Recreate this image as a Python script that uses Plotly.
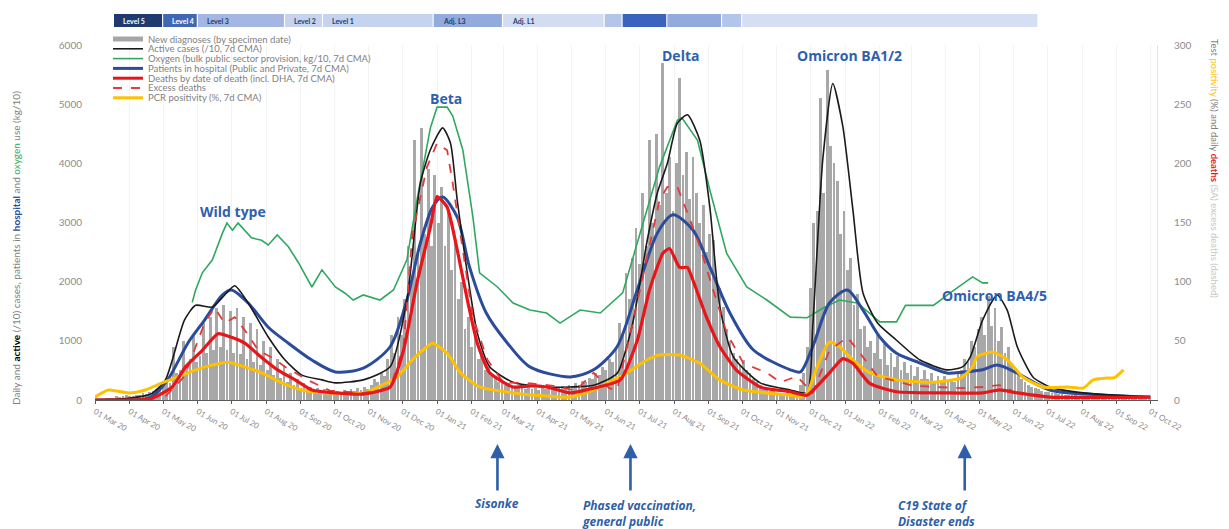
import pandas as pd
import plotly.graph_objects as go

START = pd.Timestamp("2020-03-01")
END = pd.Timestamp("2022-10-07")

# ---------------- data ----------------
# New diagnoses (by specimen date), 3-day bins from 2020-03-05
new_diag = [
    5, 10, 20, 30, 40, 60, 50, 70, 80,
    60, 70, 90, 80, 110, 100, 130, 150, 180, 200,
    250, 300, 280, 900, 450, 500, 1000, 550, 700, 1100, 650,
    750, 1300, 800, 1400, 850, 1550, 900, 1600, 850, 1500,
    800, 1550, 780, 1400, 700, 1300, 650, 1200, 600, 1000,
    500, 900, 420, 700, 380, 600, 300, 450, 250, 350,
    200, 280, 180, 220, 150, 200, 140, 180, 130, 170,
    130, 160, 140, 170, 150, 180, 160, 200, 170, 220, 190,
    250, 350, 300, 450, 400, 700, 1100, 800, 1400, 1100,
    1700, 2600, 2000, 4400, 2500, 4600, 2800, 3900, 2600, 3800,
    3000, 3600, 2600, 3200, 2200, 2700, 1700, 2000, 1200, 1400,
    900, 1100, 700, 800, 500, 550, 400, 400, 300, 320,
    250, 280, 220, 240, 200, 230, 190, 210, 180, 200,
    170, 200, 180, 210, 190, 220, 200, 240, 210, 250,
    240, 280, 260, 320, 300, 380, 350, 450, 420, 550,
    500, 700, 650, 900, 1300, 1100, 2150, 1700, 2400, 2900,
    2300, 3500, 2600, 4400, 3000, 4500, 3300, 5700, 3500, 4100, 3200,
    4000, 5450, 3800, 4200, 3400, 4100, 3500, 3000, 3300, 2500,
    2800, 2700, 2000, 1900, 1570, 1200, 1000, 800, 700, 600,
    675, 500, 450, 350, 300, 250, 220, 180, 160, 150,
    120, 110, 100, 110, 100, 120, 150, 250, 450, 900,
    1900, 3000, 3200, 5100, 3500, 5580, 4300, 4000, 3700, 2800, 3200,
    2200, 2400, 1600, 1800, 1200, 1250, 900, 1000, 800, 1100,
    700, 950, 600, 800, 550, 750, 500, 650, 450,
    600, 400, 550, 350, 500, 350, 450, 300, 400, 300, 400,
    300, 350, 300, 450, 500, 700, 650, 1000, 900, 1200,
    1400, 1100, 1750, 1250, 1550, 1000, 1230, 800, 900, 600,
    500, 450, 350, 300, 250, 220, 200, 180, 150, 140,
    130, 120, 110, 100, 100, 90, 90, 80, 80, 70,
    70, 60, 60, 55, 50, 50, 45, 45, 40, 40, 40,
    40, 35, 35, 30, 30, 30, 30, 25, 25, 25,
]

# Line series: day = days since 2020-03-01
active_day = [0, 30, 50, 63, 80, 90, 105, 116, 125, 137, 155, 170, 185, 203, 215, 240, 264, 279, 291, 300,
              311, 318, 324, 333, 342, 353, 374, 404, 425, 446, 467, 481, 494, 503, 512, 521, 530, 541, 550, 559,
              571, 595, 622, 637, 642, 651, 660, 669, 678, 687, 700, 717, 738, 762, 776, 783, 794, 807, 816, 825,
              839, 854, 884, 944]
active_val = [5, 30, 100, 340, 1350, 1600, 1570, 1775, 1930, 1640, 1065, 675, 420, 340, 290, 340, 560, 1690, 3660, 4230,
              4600, 4340, 3380, 2150, 1130, 560, 300, 220, 220, 250, 450, 1300, 2700, 3500, 4000, 4680, 4820, 4390, 3260, 1570,
              730, 290, 170, 120, 1230, 4060, 5350, 4620, 3210, 1810, 1300, 1010, 675, 510, 560, 730, 1350, 1775, 1520, 900,
              390, 220, 120, 50]

oxy_day = [87, 90, 96, 105, 114, 118, 123, 128, 140, 149, 155, 163, 173, 182, 194, 203, 215, 224, 231, 240,
           255, 267, 279, 288, 300, 306, 315, 320, 329, 338, 344, 360, 374, 389, 404, 416, 434, 452, 472, 490,
           505, 521, 525, 539, 550, 565, 583, 601, 622, 637, 651, 666, 682, 702, 717, 725, 750, 765, 785, 794, 799]
oxy_val = [1650, 1860, 2150, 2370, 2820, 2990, 2870, 2990, 2740, 2700, 2620, 2790, 2590, 2320, 1910, 2200, 1910, 1800, 1690, 1775,
           1690, 1860, 2370, 3380, 4600, 4950, 4950, 4800, 4230, 3100, 2150, 1910, 1640, 1520, 1470, 1300, 1520, 1470, 1810, 2990,
           3940, 4730, 4770, 4390, 3550, 2480, 1910, 1690, 1400, 1390, 1550, 1690, 1640, 1320, 1320, 1600, 1600, 1810, 2080, 1980, 1980]

hosp_day = [0, 50, 65, 83, 98, 114, 122, 137, 155, 173, 194, 215, 240, 264, 279, 291, 302, 311, 324, 335,
            350, 369, 389, 425, 446, 467, 485, 503, 517, 535, 550, 568, 589, 622, 631, 642, 657, 673, 687, 702,
            717, 738, 762, 776, 794, 807, 825, 854, 899, 944]
hosp_val = [0, 50, 340, 960, 1350, 1775, 1860, 1640, 1230, 960, 675, 475, 540, 900, 1690, 2650, 3260, 3430, 3090, 2250,
            1470, 960, 560, 390, 510, 900, 1860, 2820, 3130, 2870, 2250, 1470, 845, 510, 475, 900, 1640, 1860, 1520, 1065,
            790, 625, 455, 470, 510, 590, 455, 170, 85, 50]

death_day = [0, 50, 69, 81, 96, 110, 122, 134, 149, 164, 179, 194, 215, 240, 264, 276, 288, 300, 306, 315,
             324, 333, 342, 353, 374, 390, 404, 425, 446, 470, 485, 496, 508, 514, 523, 530, 535, 547, 559, 574,
             595, 622, 637, 657, 669, 678, 693, 717, 762, 794, 809, 825, 854, 944]
death_val = [0, 1, 11, 28, 42, 56, 53, 48, 36, 25, 17, 8.5, 6, 5, 11, 42, 99, 146, 172, 163,
             127, 85, 48, 23, 11, 12, 11, 6, 10, 17, 50, 93, 124, 128, 112, 112, 101, 70, 45, 25,
             11, 7, 4, 23, 35, 31, 14, 7, 6, 6, 8.5, 6, 2.5, 2.5]

excess_day = [63, 80, 98, 107, 116, 125, 134, 146, 160, 170, 190, 210, 240, 264, 276, 284, 297, 306, 315, 320,
              329, 338, 351, 365, 390, 410, 430, 446, 460, 467, 481, 494, 505, 512, 521, 530, 541, 552, 565, 580,
              601, 613, 628, 642, 657, 673, 684, 700, 732, 774, 794, 809, 820]
excess_val = [3, 20, 65, 78, 65, 70, 59, 42, 35, 28, 17, 8, 6, 10, 45, 141, 197, 217, 211, 183,
              127, 70, 34, 15, 14, 12, 8, 23, 10, 8.5, 65, 121, 169, 180, 180, 158, 130, 96, 57, 31,
              23, 15, 20, 6, 42, 53, 40, 20, 12, 10, 11, 12.5, 8]

pos_day = [0, 12, 30, 45, 60, 74, 90, 105, 119, 134, 149, 167, 185, 208, 240, 270, 284, 297, 302, 315,
           327, 344, 374, 425, 446, 476, 494, 505, 523, 541, 559, 580, 622, 631, 637, 646, 657, 666, 678, 693,
           717, 747, 774, 785, 789, 803, 816, 830, 848, 870, 884, 893, 905, 912, 920]
pos_val = [2.5, 8.5, 6, 8.5, 14.5, 19.5, 25.5, 29.5, 32, 28, 23, 14.5, 8.5, 6, 6, 19.5, 34, 45, 48, 39.5,
           23, 11, 6, 2.5, 8.5, 23, 34, 38, 38, 31, 17, 8.5, 4, 2.5, 6, 28, 49, 45, 34, 23,
           17, 15, 18.5, 28, 36.5, 40.5, 34, 19.5, 11, 11, 10, 17, 18.5, 19, 25.5]

# Lockdown level band: (label, start, end, fill, text colour)
levels = [
    ("Level 5", "2020-03-18", "2020-04-30", "#1f3a6e", "#ffffff"),
    ("Level 4", "2020-05-01", "2020-05-31", "#4267b2", "#ffffff"),
    ("Level 3", "2020-06-01", "2020-08-17", "#a3b7e2", "#1f3a6e"),
    ("Level 2", "2020-08-18", "2020-09-20", "#c6d3ee", "#1f3a6e"),
    ("Level 1", "2020-09-21", "2020-12-28", "#c6d3ee", "#1f3a6e"),
    ("Adj. L3", "2020-12-29", "2021-02-28", "#93aadc", "#1f3a6e"),
    ("Adj. L1", "2021-03-01", "2021-05-30", "#d3ddf2", "#1f3a6e"),
    ("", "2021-05-31", "2021-06-15", "#b4c5ea", "#1f3a6e"),
    ("", "2021-06-16", "2021-07-25", "#3b63be", "#1f3a6e"),
    ("", "2021-07-26", "2021-09-12", "#93aadc", "#1f3a6e"),
    ("", "2021-09-13", "2021-09-30", "#b4c5ea", "#1f3a6e"),
    ("", "2021-10-01", "2022-06-22", "#d5def2", "#1f3a6e"),
]

# Wave labels: (text, date, left-axis value)
waves = [
    ("Wild type", "2020-07-02", 3180),
    ("Beta", "2021-01-09", 5100),
    ("Delta", "2021-08-07", 5830),
    ("Omicron BA1/2", "2022-01-05", 5830),
    ("Omicron BA4/5", "2022-05-15", 1760),
]

# Event arrows: (text, date)
events = [
    ("Sisonke", "2021-02-24"),
    ("Phased vaccination,<br>general public", "2021-06-23"),
    ("C19 State of<br>Disaster ends", "2022-04-18"),
]

legend_items = [
    ("New diagnoses (by specimen date)", "#a6a6a6", "solid", 5),
    ("Active cases (/10, 7d CMA)", "#1a1a1a", "solid", 1.6),
    ("Oxygen (bulk public sector provision, kg/10, 7d CMA)", "#2fa860", "solid", 1.6),
    ("Patients in hospital (Public and Private, 7d CMA)", "#2b4c9b", "solid", 3),
    ("Deaths by date of death (incl. DHA, 7d CMA)", "#e8161b", "solid", 3),
    ("Excess deaths", "#e03a3a", "dash", 1.8),
    ("PCR positivity (%, 7d CMA)", "#ffc000", "solid", 3),
]


def to_dates(days):
    return [START + pd.Timedelta(days=d) for d in days]


bar_dates = pd.date_range("2020-03-05", periods=len(new_diag), freq="3D")

fig = go.Figure()
fig.add_trace(go.Bar(x=bar_dates, y=new_diag, width=2.5 * 86400000,
                     marker=dict(color="#a8a8a8", line=dict(width=0)), name="New diagnoses"))
fig.add_trace(go.Scatter(x=to_dates(oxy_day), y=oxy_val, mode="lines",
                         line=dict(color="#2fa860", width=1.6), name="Oxygen"))
fig.add_trace(go.Scatter(x=to_dates(hosp_day), y=hosp_val, mode="lines",
                         line=dict(color="#2b4c9b", width=3, shape="spline", smoothing=0.8), name="Hospital"))
fig.add_trace(go.Scatter(x=to_dates(active_day), y=active_val, mode="lines",
                         line=dict(color="#1a1a1a", width=1.6, shape="spline", smoothing=0.6), name="Active"))
fig.add_trace(go.Scatter(x=to_dates(pos_day), y=pos_val, mode="lines", yaxis="y2",
                         line=dict(color="#ffc000", width=3, shape="spline", smoothing=0.6), name="PCR positivity"))
fig.add_trace(go.Scatter(x=to_dates(excess_day), y=excess_val, mode="lines", yaxis="y2",
                         line=dict(color="#e03a3a", width=1.8, dash="dash"), name="Excess deaths"))
fig.add_trace(go.Scatter(x=to_dates(death_day), y=death_val, mode="lines", yaxis="y2",
                         line=dict(color="#e8161b", width=3.2, shape="spline", smoothing=0.5), name="Deaths"))

PLOT_L, PLOT_R, PLOT_T, PLOT_B = 95, 1157, 45, 400


def py(pix):
    return (PLOT_B - pix) / (PLOT_B - PLOT_T)


def px(pix):
    return (pix - PLOT_L) / (PLOT_R - PLOT_L)


shapes = []
annotations = []

# level band
for lab, s, e, fill, tcol in levels:
    shapes.append(dict(type="rect", xref="x", yref="paper", x0=s, x1=e,
                       y0=py(27), y1=py(14), fillcolor=fill, line=dict(width=0), layer="above"))
    if lab:
        annotations.append(dict(x=s, y=py(20.5), xref="x", yref="paper", text="<b>" + lab + "</b>",
                                showarrow=False, xanchor="left", yanchor="middle", xshift=7,
                                font=dict(size=7, color=tcol, family="Lato")))

# manual legend
for i, (lab, col, dash, w) in enumerate(legend_items):
    yy = py(39 + 9.8 * i)
    shapes.append(dict(type="line", xref="paper", yref="paper", x0=px(113), x1=px(143), y0=yy, y1=yy,
                       line=dict(color=col, width=w, dash=dash)))
    annotations.append(dict(x=px(146), y=yy, xref="paper", yref="paper", text=lab, showarrow=False,
                            xanchor="left", yanchor="middle",
                            font=dict(size=9.5, color="#7f7f7f", family="Lato")))

# wave labels
for txt, d, v in waves:
    annotations.append(dict(x=d, y=v, xref="x", yref="y", text="<b>" + txt + "</b>", showarrow=False,
                            yanchor="middle",
                            font=dict(size=14, color="#2e60ae", family="Open Sans")))

# events
for txt, d in events:
    annotations.append(dict(x=d, y=py(444), xref="x", yref="paper", text="", showarrow=True,
                            ax=0, ay=48, arrowhead=2, arrowsize=1.1, arrowwidth=2.6, arrowcolor="#2e5fa8"))
annotations.append(dict(x=events[0][1], y=py(503), xref="x", yref="paper", text="<b><i>" + events[0][0] + "</i></b>",
                        showarrow=False, xanchor="center", yanchor="middle",
                        font=dict(size=12, color="#2e5fa8", family="Open Sans")))
annotations.append(dict(x=px(580), y=py(495), xref="paper", yref="paper",
                        text="<b><i>" + events[1][0] + "</i></b>", align="left",
                        showarrow=False, xanchor="left", yanchor="top",
                        font=dict(size=12, color="#2e5fa8", family="Open Sans")))
annotations.append(dict(x=px(896), y=py(495), xref="paper", yref="paper",
                        text="<b><i>" + events[2][0] + "</i></b>", align="left",
                        showarrow=False, xanchor="left", yanchor="top",
                        font=dict(size=12, color="#2e5fa8", family="Open Sans")))

# axis titles
annotations.append(dict(x=px(16), y=py(248), xref="paper", yref="paper", textangle=-90, showarrow=False,
                        xanchor="center", yanchor="middle",
                        text="Daily and <b><span style='color:#000000'>active</span></b> (/10) cases, patients in "
                             "<b><span style='color:#2b4c9b'>hospital</span></b> and "
                             "<span style='color:#2fa860'>oxygen</span> use (kg/10)",
                        font=dict(size=10, color="#7f7f7f", family="Lato")))
annotations.append(dict(x=px(1215), y=py(168), xref="paper", yref="paper", textangle=90, showarrow=False,
                        xanchor="center", yanchor="middle",
                        text="Test <span style='color:#ffc000'>positivity</span> (%) and daily "
                             "<b><span style='color:#e8161b'>deaths</span></b> "
                             "<span style='color:#c8c8c8'>(SA) excess deaths (dashed)</span>",
                        font=dict(size=9.5, color="#7f7f7f", family="Lato")))

fig.update_layout(
    width=1229, height=529,
    margin=dict(l=PLOT_L, r=1229 - PLOT_R, t=PLOT_T, b=529 - PLOT_B),
    paper_bgcolor="white", plot_bgcolor="white",
    showlegend=False, bargap=0,
    shapes=shapes, annotations=annotations,
    xaxis=dict(type="date", range=[START, END], tickmode="linear", tick0="2020-03-01", dtick="M1",
               tickformat="%d %b %y", tickangle=30,
               tickfont=dict(size=8, color="#8c8c8c", family="Lato"),
               showgrid=True, gridcolor="#f3f3f3", gridwidth=1,
               showline=True, linecolor="#595959", linewidth=1,
               ticks="outside", ticklen=3, tickcolor="#595959", zeroline=False),
    yaxis=dict(range=[0, 6000], tickmode="linear", dtick=1000, showgrid=False, zeroline=False,
               tickfont=dict(size=10, color="#8c8c8c", family="Lato"), ticklabelstandoff=12),
    yaxis2=dict(range=[0, 300], tickmode="linear", dtick=50, overlaying="y", side="right",
                showgrid=False, zeroline=False, showline=True, linecolor="#e6e6e6",
                tickfont=dict(size=10, color="#8c8c8c", family="Lato"), ticklabelstandoff=14),
)

fig.write_html("out.html")
